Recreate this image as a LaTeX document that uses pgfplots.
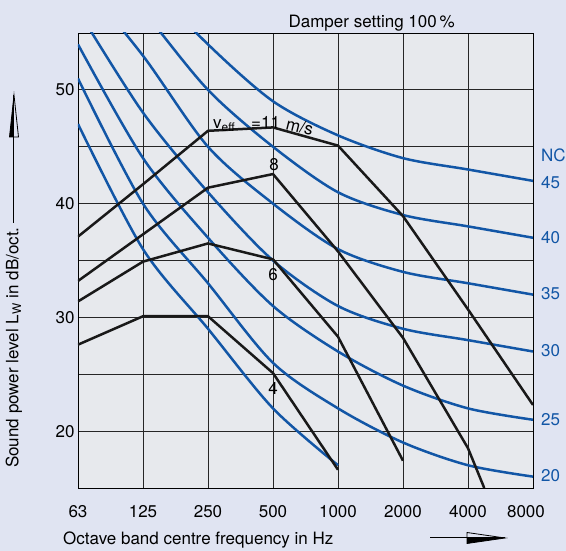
\documentclass[border=0pt]{standalone}
\usepackage{fontspec}
\setmainfont{TeX Gyre Heros}
\usepackage{graphicx}
\usepackage{pgfplots}
\pgfplotsset{compat=1.18}
\definecolor{bg}{RGB}{224,228,242}
\definecolor{plotbg}{RGB}{231,233,237}
\definecolor{ncblue}{RGB}{18,86,166}
\begin{document}
\begin{tikzpicture}[font=\fontsize{17}{20}\selectfont]
\fill[bg] (-78pt,-63pt) rectangle (488pt,488pt);
\begin{axis}[
  at={(0pt,0pt)}, anchor=south west,
  scale only axis, width=455pt, height=455pt,
  xmin=0, xmax=7, ymin=15, ymax=55,
  axis background/.style={fill=plotbg},
  xtick={0,...,7}, xticklabels={63,125,250,500,1000,2000,4000,{\hspace*{-14pt}8000}},
  ytick={20,30,40,50}, minor ytick={25,35,45},
  grid=both,
  major grid style={black!85, line width=0.8pt},
  minor grid style={black!85, line width=0.8pt},
  major tick length=0pt, minor tick length=0pt,
  axis line style={black, line width=0.9pt},
  xticklabel style={anchor=base, yshift=-30pt},
  /pgf/number format/assume math mode=true,
]
% NC curves
\addplot[ncblue, line width=2.5pt, smooth] coordinates {(0,47) (1,36) (2,29) (3,22) (4,17)};
\addplot[ncblue, line width=2.5pt, smooth] coordinates {(0,51) (1,40) (2,33) (3,26) (4,22) (5,19) (6,17) (7,16)};
\addplot[ncblue, line width=2.5pt, smooth] coordinates {(0,54) (1,44) (2,37) (3,31) (4,27) (5,24) (6,22) (7,21)};
\addplot[ncblue, line width=2.5pt, smooth] coordinates {(0,57) (1,48) (2,41) (3,35) (4,31) (5,29) (6,28) (7,27)};
\addplot[ncblue, line width=2.5pt, smooth] coordinates {(0,60) (1,53) (2,45) (3,40) (4,36) (5,34) (6,33) (7,32)};
\addplot[ncblue, line width=2.5pt, smooth] coordinates {(0,64) (1,57) (2,50) (3,45) (4,41) (5,39) (6,38) (7,37)};
\addplot[ncblue, line width=2.5pt, smooth] coordinates {(0,67) (1,60) (2,54) (3,49) (4,46) (5,44) (6,43) (7,42)};
% sound power curves
\addplot[black!90, line width=2.5pt, line join=round] coordinates {(0,37.1) (1,41.7) (2,46.4) (3,46.7) (4,45.1) (5,38.9) (6,30.7) (7,22.3)};
\addplot[black!90, line width=2.5pt, line join=round] coordinates {(0,33.2) (1,37.3) (2,41.4) (3,42.6) (4,35.8) (5,28.2) (6,18.5) (6.25,15)};
\addplot[black!90, line width=2.5pt, line join=round] coordinates {(0,31.4) (1,34.9) (2,36.5) (3,35.1) (4,28.3) (5,17.4)};
\addplot[black!90, line width=2.5pt, line join=round] coordinates {(0,27.6) (1,30.1) (2,30.1) (3,25.1) (4,16.6)};
\end{axis}
% title
\node[anchor=base west] at (207pt,460pt) {Damper setting 100\,\%};
% NC labels
\node[anchor=west, ncblue, inner sep=0pt] at (463pt,333pt) {NC};
\node[anchor=west, ncblue, inner sep=0pt] at (463pt,305pt) {45};
\node[anchor=west, ncblue, inner sep=0pt] at (463pt,250pt) {40};
\node[anchor=west, ncblue, inner sep=0pt] at (463pt,194pt) {35};
\node[anchor=west, ncblue, inner sep=0pt] at (463pt,137pt) {30};
\node[anchor=west, ncblue, inner sep=0pt] at (463pt,68pt) {25};
\node[anchor=west, ncblue, inner sep=0pt] at (463pt,12pt) {20};
% curve labels
\node[anchor=base west, inner sep=0pt] at (135pt,359pt) {v\textsubscript{eff}\hspace{16pt}=11\hspace{5pt}\rotatebox[origin=bl]{-14}{m/s}};
\node[inner sep=0pt] at (196pt,323pt) {8};
\node[inner sep=0pt] at (195pt,213pt) {6};
\node[inner sep=0pt] at (195pt,100pt) {4};
% x label and arrow
\node[anchor=base west, inner sep=0pt] at (-15pt,-57pt) {Octave band centre frequency in Hz};
\draw[line width=1pt] (352pt,-50pt) -- (427pt,-50pt);
\draw[line width=0.8pt, line join=miter] (389pt,-44.5pt) -- (427pt,-50pt) -- (389pt,-55.5pt) -- cycle;
\fill (389pt,-50pt) -- (427pt,-50pt) -- (389pt,-55.5pt) -- cycle;
% y label and arrow
\node[rotate=90, anchor=west, inner sep=0pt] at (-64pt,20pt) {Sound power level L\textsubscript{W} in dB/oct.};
\draw[line width=1pt] (-64pt,265pt) -- (-64pt,393pt);
\draw[line width=0.8pt, line join=miter] (-59.5pt,351pt) -- (-64pt,393pt) -- (-68.5pt,351pt) -- cycle;
\fill (-64pt,351pt) -- (-64pt,393pt) -- (-68.5pt,351pt) -- cycle;
\pgfresetboundingbox
\useasboundingbox (-78pt,-63pt) rectangle (488pt,488pt);
\end{tikzpicture}
\end{document}
